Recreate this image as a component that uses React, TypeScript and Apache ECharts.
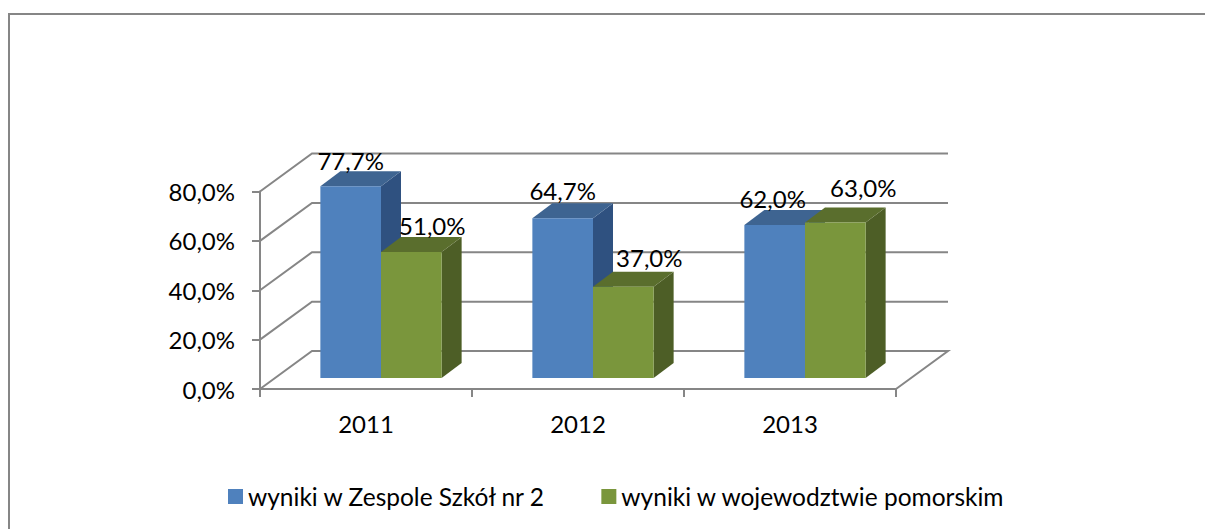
import React, { useEffect, useRef } from "react";
import * as echarts from "echarts";

const categories = ["2011", "2012", "2013"];
const schoolValues = [77.7, 64.7, 62.0];
const regionValues = [51.0, 37.0, 63.0];
const yTicks = [0, 20, 40, 60, 80];
const seriesNames = ["wyniki w Zespole Szkół nr 2", "wyniki w wojewodztwie pomorskim"];

const FONT = "Lato";
const GREY = "#868686";
const fmt = (v: number) => v.toFixed(1).replace(".", ",") + "%";

// 3D projection of the chart box, in pixels
const WALL_DX = 52;
const WALL_DY = -38;
const BAR_DX = 15;
const BAR_DY = -11;
const DEPTH_DX = 20;
const DEPTH_DY = -15;
const BAR_SHARE = 0.286;

const palette = [
  { front: "#4F81BD", top: "#3E6491", side: "#2F5180" },
  { front: "#7A963C", top: "#5A6E2D", side: "#4D5E26" },
];
// hand-placed label shifts from the bar's front centre
const labelShift = [
  [[0, -26], [0, -28], [-2, -26]],
  [[21, -27], [26, -29], [28, -35]],
];

const barRender = (idx: number) => (params: any, api: any) => {
  const cat = api.value(0);
  const val = api.value(1);
  const [cx, y1] = api.coord([cat, val]);
  const [, y0] = api.coord([cat, 0]);
  const band = api.size([1, 0])[0];
  const w = band * BAR_SHARE;
  const xl = cx + BAR_DX + (idx === 0 ? -w : 0);
  const xr = xl + w;
  const bottom = y0 + BAR_DY;
  const top = y1 + BAR_DY;
  const c = palette[idx];
  const [sx, sy] = labelShift[idx][params.dataIndex];
  return {
    type: "group",
    children: [
      { type: "polygon", shape: { points: [[xr, bottom], [xr + DEPTH_DX, bottom + DEPTH_DY], [xr + DEPTH_DX, top + DEPTH_DY], [xr, top]] }, style: { fill: c.side } },
      { type: "polygon", shape: { points: [[xl, top], [xl + DEPTH_DX, top + DEPTH_DY], [xr + DEPTH_DX, top + DEPTH_DY], [xr, top]] }, style: { fill: c.top } },
      { type: "rect", shape: { x: xl, y: top, width: w, height: bottom - top }, style: { fill: c.front } },
      {
        type: "text",
        z2: 100,
        style: {
          text: fmt(val),
          x: (xl + xr) / 2 + sx,
          y: top + sy,
          align: "center",
          verticalAlign: "middle",
          fontFamily: FONT,
          fontSize: 24,
          fill: "#000",
        },
      },
    ],
  };
};

const wallRender = (_: any, api: any) => {
  const v = api.value(1);
  const [cx, y] = api.coord([0, v]);
  const band = api.size([1, 0])[0];
  const x0 = cx - band / 2;
  const x1 = x0 + band * categories.length;
  const pts = [[x0, y], [x0 + WALL_DX, y + WALL_DY], [x1 + WALL_DX, y + WALL_DY]];
  if (v === 0) pts.push([x1, y]);
  return { type: "polyline", shape: { points: pts }, style: { stroke: GREY, lineWidth: 2, fill: "none" } };
};

export default function App() {
  const ref = useRef<HTMLDivElement>(null);
  useEffect(() => {
    const chart = echarts.init(ref.current!, undefined, { renderer: "svg" });
    chart.setOption({
      animation: false,
      backgroundColor: "#fff",
      textStyle: { fontFamily: FONT },
      grid: { left: 260, top: 191.5, width: 636, height: 197.5 },
      legend: {
        data: seriesNames.map((name, i) => ({ name, icon: "rect", itemStyle: { color: palette[i].front } })),
        left: 223,
        top: 479,
        itemWidth: 15,
        itemHeight: 15,
        itemGap: 55,
        textStyle: { fontFamily: FONT, fontSize: 24.5, color: "#000" },
      },
      xAxis: {
        type: "category",
        data: categories,
        axisLine: { lineStyle: { color: GREY, width: 2 } },
        axisTick: { show: true, length: 8, lineStyle: { color: GREY, width: 2 } },
        axisLabel: { color: "#000", fontSize: 24, fontFamily: FONT, margin: 22 },
        splitLine: { show: false },
      },
      yAxis: {
        type: "value",
        min: 0,
        max: 80,
        interval: 20,
        axisLine: { show: true, lineStyle: { color: GREY, width: 2 } },
        axisTick: { show: true, length: 8, lineStyle: { color: GREY, width: 2 } },
        axisLabel: { color: "#000", fontSize: 24, fontFamily: FONT, margin: 25, formatter: (v: number) => fmt(v) },
        splitLine: { show: false },
      },
      graphic: [
        { type: "polyline", shape: { points: [[9, 529], [9, 14], [1205, 14]] }, style: { stroke: GREY, lineWidth: 2, fill: "none" } },
      ],
      series: [
        {
          type: "custom",
          name: "walls",
          z: 1,
          silent: true,
          renderItem: wallRender,
          encode: { x: 0, y: 1 },
          data: yTicks.map((v) => [0, v]),
        },
        {
          type: "custom",
          name: seriesNames[0],
          z: 2,
          itemStyle: { color: palette[0].front },
          renderItem: barRender(0),
          encode: { x: 0, y: 1 },
          data: schoolValues.map((v, i) => [i, v]),
        },
        {
          type: "custom",
          name: seriesNames[1],
          z: 3,
          itemStyle: { color: palette[1].front },
          renderItem: barRender(1),
          encode: { x: 0, y: 1 },
          data: regionValues.map((v, i) => [i, v]),
        },
      ],
    });
    return () => chart.dispose();
  }, []);
  return <div ref={ref} style={{ position: "fixed", left: 0, top: 0, width: 1205, height: 529 }} />;
}
